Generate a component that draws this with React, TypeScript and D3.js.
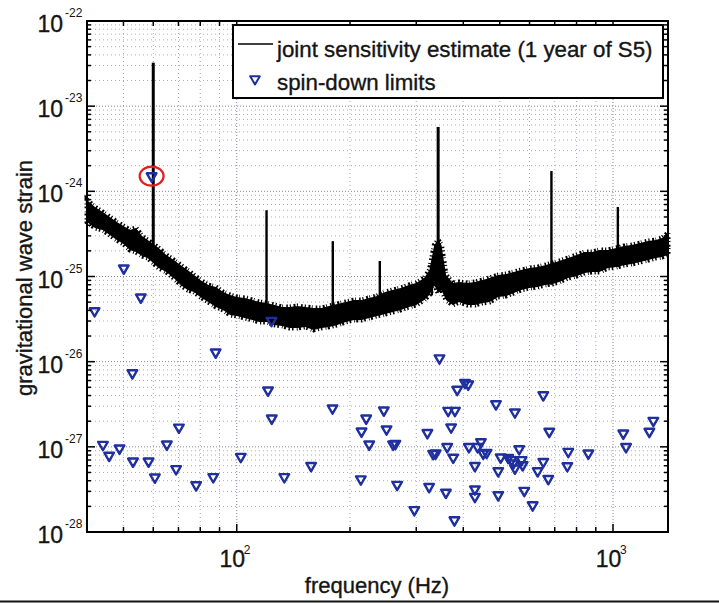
import React from 'react';
import * as d3 from 'd3';

// Joint sensitivity band: frequency (Hz), upper & lower strain envelope
const bandFreq = [40, 42, 44, 46, 48, 50, 52, 54, 56, 58, 62, 65, 68, 71, 74, 77, 80, 84, 88, 92, 96, 100, 105, 110, 115, 120, 126, 132, 138, 145, 152, 160, 168, 176, 185, 195, 205, 215, 225, 236, 248, 260, 273, 287, 300, 315, 325, 335, 343, 350, 360, 375, 390, 410, 430, 450, 470, 495, 520, 545, 570, 600, 630, 660, 690, 720, 760, 800, 840, 880, 920, 970, 1020, 1070, 1120, 1180, 1240, 1300, 1350, 1400];
const bandUpper = [7.9e-25, 6.55e-25, 5.72e-25, 5.0e-25, 4.36e-25, 3.92e-25, 3.52e-25, 3.71e-25, 2.99e-25, 2.68e-25, 2.16e-25, 1.79e-25, 1.56e-25, 1.36e-25, 1.19e-25, 1.04e-25, 9.11e-26, 7.95e-26, 7.54e-26, 6.58e-26, 6.07e-26, 5.75e-26, 5.6e-26, 5.3e-26, 5.02e-26, 4.89e-26, 4.63e-26, 4.39e-26, 4.39e-26, 4.51e-26, 4.39e-26, 4.27e-26, 4.27e-26, 4.51e-26, 4.76e-26, 5.02e-26, 5.3e-26, 5.3e-26, 5.6e-26, 5.91e-26, 6.58e-26, 6.95e-26, 7.33e-26, 7.95e-26, 8.4e-26, 9.61e-26, 1.19e-25, 2.34e-25, 2.68e-25, 2.34e-25, 1.04e-25, 8.4e-26, 8.63e-26, 8.4e-26, 8.63e-26, 9.11e-26, 9.61e-26, 1.04e-25, 1.07e-25, 1.13e-25, 1.19e-25, 1.26e-25, 1.29e-25, 1.36e-25, 1.44e-25, 1.52e-25, 1.65e-25, 1.79e-25, 1.94e-25, 1.94e-25, 2.05e-25, 2.05e-25, 2.16e-25, 2.28e-25, 2.34e-25, 2.47e-25, 2.61e-25, 2.68e-25, 2.83e-25, 3.24e-25];
const bandLower = [4.36e-25, 3.71e-25, 3.52e-25, 3.07e-25, 2.68e-25, 2.41e-25, 2.05e-25, 1.94e-25, 1.74e-25, 1.65e-25, 1.26e-25, 1.13e-25, 9.61e-26, 7.95e-26, 6.95e-26, 6.58e-26, 5.75e-26, 5.02e-26, 4.39e-26, 4.05e-26, 3.53e-26, 3.44e-26, 3.26e-26, 3.09e-26, 2.93e-26, 2.93e-26, 2.7e-26, 2.63e-26, 2.49e-26, 2.49e-26, 2.56e-26, 2.36e-26, 2.49e-26, 2.56e-26, 2.7e-26, 2.93e-26, 3.09e-26, 3.09e-26, 3.26e-26, 3.44e-26, 3.63e-26, 3.83e-26, 4.05e-26, 4.39e-26, 4.63e-26, 5.3e-26, 6.07e-26, 7.95e-26, 6.41e-26, 6.95e-26, 5.3e-26, 4.63e-26, 5.02e-26, 4.63e-26, 4.63e-26, 4.89e-26, 5.02e-26, 5.75e-26, 5.91e-26, 6.41e-26, 6.95e-26, 7.33e-26, 7.54e-26, 7.95e-26, 8.17e-26, 8.63e-26, 9.61e-26, 1.01e-25, 1.1e-25, 1.13e-25, 1.13e-25, 1.26e-25, 1.29e-25, 1.36e-25, 1.4e-25, 1.48e-25, 1.56e-25, 1.65e-25, 1.69e-25, 1.79e-25];

// Narrow lines in the sensitivity curve
const lineFreq = [60, 120, 180, 240, 330, 343, 686, 1030];
const lineBase = [2.0e-25, 3.0e-26, 3.0e-26, 3.5e-26, 6.0e-26, 7.0e-26, 8.0e-26, 1.3e-25];
const linePeak = [3.24e-23, 6.0e-25, 2.6e-25, 1.52e-25, 1.29e-25, 5.7e-24, 1.73e-24, 6.55e-25];

// Spin-down limits
const spinFreq = [41.9, 50.1, 55.6, 87.9, 59.4, 123.7, 52.8, 121.1, 123.9, 44.1, 45.8, 48.8, 53.0, 58.3, 60.6, 65.2, 70.2, 69.0, 78.0, 86.6, 102.5, 133.8, 157.6, 179.7, 213.7, 214.6, 220.8, 224.9, 246.0, 250.1, 260.4, 264.0, 266.9, 296.5, 321.1, 324.5, 332.8, 337.7, 345.8, 359.6, 362.5, 364.7, 371.3, 376.1, 380.1, 378.9, 385.4, 404.1, 412.3, 414.0, 429.5, 429.5, 429.5, 436.7, 445.6, 451.9, 488.5, 461.4, 495.4, 495.4, 502.7, 526.6, 537.7, 548.7, 543.0, 563.3, 571.7, 575.2, 548.7, 580.9, 611.6, 630.6, 652.6, 652.6, 672.9, 677.0, 756.0, 760.5, 859.8, 1065, 1083, 1249, 1280];
const spinH = [3.94e-26, 1.25e-25, 5.7e-26, 1.29e-26, 1.51e-24, 3.03e-26, 7.36e-27, 4.61e-27, 2.16e-27, 1.06e-27, 7.91e-28, 9.62e-28, 6.76e-28, 6.76e-28, 4.39e-28, 1.07e-27, 1.69e-27, 5.5e-28, 3.56e-28, 4.43e-28, 7.66e-28, 4.43e-28, 6.0e-28, 2.84e-27, 4.17e-28, 1.52e-27, 2.16e-27, 1.07e-27, 2.69e-27, 1.61e-27, 1.07e-27, 1.09e-27, 3.6e-28, 1.82e-28, 1.46e-27, 3.4e-28, 8.28e-28, 8.39e-28, 1.1e-26, 2.91e-28, 1.0e-27, 2.66e-27, 1.7e-27, 7.5e-28, 2.66e-27, 1.38e-28, 4.7e-27, 5.66e-27, 5.42e-27, 1.0e-27, 6.0e-28, 3.18e-28, 2.6e-28, 1.0e-27, 1.14e-27, 8.39e-28, 3.18e-27, 8.53e-28, 5.2e-28, 2.72e-28, 7.54e-28, 7.46e-28, 7.02e-28, 5.6e-28, 6.41e-28, 9.44e-28, 7.02e-28, 6.12e-28, 2.55e-27, 3.06e-28, 2.07e-28, 5.2e-28, 6.69e-28, 4.06e-27, 4.22e-28, 1.51e-27, 5.96e-28, 8.77e-28, 8.39e-28, 1.44e-27, 1.0e-27, 1.51e-27, 2.03e-27];

// Highlighted (circled) spin-down limit
const circledFreq = 59.4;
const circledH = 1.51e-24;

const xTickValues = [100, 1000];
const xTickExp = ['2', '3'];
const yTickValues = [1e-22, 1e-23, 1e-24, 1e-25, 1e-26, 1e-27, 1e-28];
const yTickExp = ['-22', '-23', '-24', '-25', '-26', '-27', '-28'];
const xMinorValues = [50, 60, 70, 80, 90, 200, 300, 400, 500, 600, 700, 800, 900];

const legendLabels = ['joint sensitivity estimate (1 year of S5)', 'spin-down limits'];
const xLabel = 'frequency (Hz)';
const yLabel = 'gravitational wave strain';

const FONT = '"Liberation Sans", Arial, Helvetica, sans-serif';
const BLUE = '#1f2f9e';
const TXT = '#151515';

export default function App() {
  const L = 87, R = 668, T = 21, B = 532;
  const x = d3.scaleLog().domain([40, 1400]).range([L, R]);
  const y = d3.scaleLog().domain([1e-28, 1e-22]).range([B, T]);

  const yMinor: number[] = [];
  for (let e = -28; e < -22; e++) {
    for (let m = 2; m < 10; m++) yMinor.push(m * Math.pow(10, e));
  }

  const area = d3
    .area<number>()
    .x((d) => x(d))
    .y0((_, i) => y(bandLower[i]))
    .y1((_, i) => y(bandUpper[i]));
  const bandPath = area(bandFreq) || '';

  const tri = d3.symbol().type(d3.symbolTriangle).size(40)() || '';
  const textStroke = { stroke: TXT, strokeWidth: 0.35 };

  return (
    <svg
      width={719}
      height={603}
      style={{ position: 'absolute', left: 0, top: 0, background: '#fff' }}
      fontFamily={FONT}
    >
      <rect x={0} y={0} width={719} height={603} fill="#fff" />
      {/* grid */}
      <g>
        {xMinorValues.map((v) => (
          <line key={'gx' + v} x1={x(v)} x2={x(v)} y1={T} y2={B} stroke="#b0a8c0" strokeWidth={1} strokeDasharray="1 3" />
        ))}
        {xTickValues.map((v) => (
          <line key={'gX' + v} x1={x(v)} x2={x(v)} y1={T} y2={B} stroke="#8a80a0" strokeWidth={1} strokeDasharray="1 2" />
        ))}
        {yMinor.map((v, i) => (
          <line key={'gy' + i} x1={L} x2={R} y1={y(v)} y2={y(v)} stroke="#b0a8c0" strokeWidth={1} strokeDasharray="1 3" />
        ))}
        {yTickValues.map((v, i) => (
          <line key={'gY' + i} x1={L} x2={R} y1={y(v)} y2={y(v)} stroke="#8a80a0" strokeWidth={1} strokeDasharray="1 2" />
        ))}
      </g>

      {/* sensitivity curve: solid band with serrated (noisy) edges */}
      <path d={bandPath} fill="#000" stroke="none" />
      <path d={bandPath} fill="none" stroke="#000" strokeWidth={5} strokeDasharray="1.2 2.6 2 1.4 0.8 3.2 1.6 2" strokeLinejoin="miter" />
      {lineFreq.map((f, i) => (
        <line
          key={'ln' + i}
          x1={x(f)}
          x2={x(f)}
          y1={y(lineBase[i])}
          y2={y(linePeak[i])}
          stroke="#000"
          strokeWidth={i === 0 || i === 5 ? 3 : 2.4}
        />
      ))}

      {/* spin-down limits */}
      {spinFreq.map((f, i) => (
        <path
          key={'sp' + i}
          d={tri}
          transform={`translate(${x(f)},${y(spinH[i])}) rotate(180)`}
          fill="none"
          stroke={BLUE}
          strokeWidth={2.4}
          strokeLinejoin="round"
        />
      ))}
      <ellipse cx={x(circledFreq)} cy={y(circledH)} rx={12} ry={9.5} fill="none" stroke="#e0201c" strokeWidth={2.2} />

      {/* frame */}
      <rect x={L} y={T} width={R - L} height={B - T} fill="none" stroke="#000" strokeWidth={2} />

      {/* ticks */}
      <g stroke="#000" strokeWidth={1.5}>
        {yTickValues.map((v, i) => (
          <g key={'ty' + i}>
            <line x1={L} x2={L + 8} y1={y(v)} y2={y(v)} />
            <line x1={R} x2={R - 8} y1={y(v)} y2={y(v)} />
          </g>
        ))}
        {yMinor.map((v, i) => (
          <g key={'tym' + i}>
            <line x1={L} x2={L + 4} y1={y(v)} y2={y(v)} />
            <line x1={R} x2={R - 4} y1={y(v)} y2={y(v)} />
          </g>
        ))}
        {xTickValues.map((v, i) => (
          <g key={'tx' + i}>
            <line x1={x(v)} x2={x(v)} y1={B} y2={B - 8} />
            <line x1={x(v)} x2={x(v)} y1={T} y2={T + 8} />
          </g>
        ))}
        {xMinorValues.map((v, i) => (
          <g key={'txm' + i}>
            <line x1={x(v)} x2={x(v)} y1={B} y2={B - 5} />
            <line x1={x(v)} x2={x(v)} y1={T} y2={T + 5} />
          </g>
        ))}
      </g>

      {/* tick labels */}
      {yTickValues.map((v, i) => (
        <g key={'yl' + i} fill={TXT}>
          <text x={63} y={y(v) + 11} textAnchor="end" fontSize={23} {...textStroke}>10</text>
          <text x={65} y={y(v) - 4} fontSize={12}>{yTickExp[i]}</text>
        </g>
      ))}
      {xTickValues.map((v, i) => (
        <g key={'xl' + i} fill={TXT}>
          <text x={x(v) - 4.5} y={567} textAnchor="middle" fontSize={23} {...textStroke}>10</text>
          <text x={x(v) + 7} y={554} fontSize={12}>{xTickExp[i]}</text>
        </g>
      ))}

      {/* axis labels */}
      <text x={377} y={593} textAnchor="middle" fontSize={22} fill={TXT} {...textStroke}>{xLabel}</text>
      <text transform="translate(32,278) rotate(-90)" textAnchor="middle" fontSize={22} fill={TXT} {...textStroke}>{yLabel}</text>

      {/* legend */}
      <rect x={233} y={25} width={430} height={73} fill="#fff" stroke="#000" strokeWidth={2} />
      <line x1={238} x2={273} y1={44} y2={44} stroke="#000" strokeWidth={1.5} />
      <text x={277} y={57} fontSize={22.3} fill={TXT} {...textStroke}>{legendLabels[0]}</text>
      <path d={tri} transform="translate(255,79) rotate(180)" fill="none" stroke={BLUE} strokeWidth={2} strokeLinejoin="round" />
      <text x={277} y={90} fontSize={22.3} fill={TXT} {...textStroke}>{legendLabels[1]}</text>

      {/* bottom rule */}
      <line x1={0} x2={719} y1={601.5} y2={601.5} stroke="#111" strokeWidth={2} />
    </svg>
  );
}
